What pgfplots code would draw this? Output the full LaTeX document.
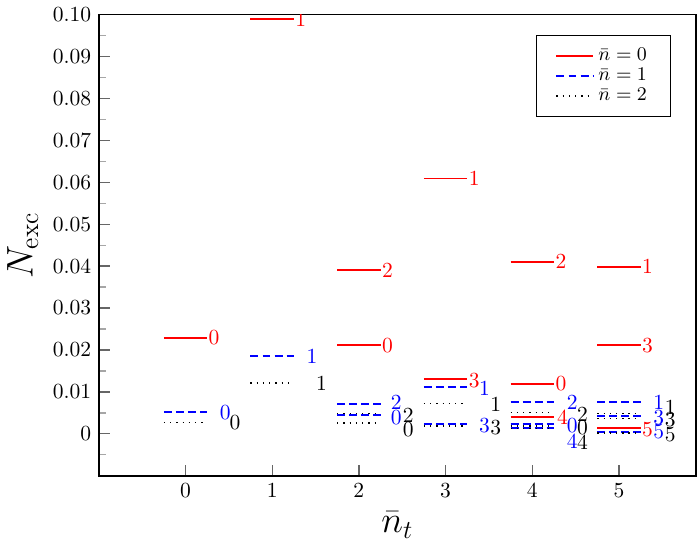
\documentclass[border=0pt]{standalone}
\usepackage{pgfplots}
\pgfplotsset{compat=1.18}
\newcommand{\lab}[4]{\node[text=#4,inner sep=0pt,anchor=center] at (axis cs:#1,#2) {$#3$};}
\begin{document}
\begin{tikzpicture}
\begin{axis}[scale only axis,width=277.7pt,height=214.4pt,
  xmin=-1,xmax=5.89,ymin=-0.01,ymax=0.1,
  xtick={0,1,2,3,4,5},
  ytick={0,0.01,0.02,0.03,0.04,0.05,0.06,0.07,0.08,0.09,0.1},
  yticklabels={0,0.01,0.02,0.03,0.04,0.05,0.06,0.07,0.08,0.09,0.10},
  minor ytick={-0.005,0.005,0.015,0.025,0.035,0.045,0.055,0.065,0.075,0.085,0.095},
  xtick pos=lower,ytick pos=left,tick align=inside,
  major tick length=5pt,minor tick length=3.3pt,
  major tick style={gray!80!black,line width=0.6pt},
  minor tick style={gray!70,line width=0.6pt},
  axis line style={line width=0.8pt},
  xlabel={$\bar{n}_t$},ylabel={$N_{\mathrm{exc}}$},
  label style={font=\LARGE},
  unbounded coords=jump,
  legend style={at={(0.958,0.956)},anchor=north east,font=\small,
    cells={anchor=west},inner xsep=9pt,inner ysep=4pt,row sep=-2pt}]
% nbar = 0
\addplot[red,line width=0.9pt] coordinates {
 (-0.25,0.0229)(0.25,0.0229)(0,nan)
 (0.75,0.0989)(1.25,0.0989)(1,nan)
 (1.75,0.0390)(2.25,0.0390)(2,nan)
 (1.75,0.0211)(2.25,0.0211)(2,nan)
 (2.75,0.0609)(3.25,0.0609)(3,nan)
 (2.75,0.0131)(3.25,0.0131)(3,nan)
 (3.75,0.0410)(4.25,0.0410)(4,nan)
 (3.75,0.0119)(4.25,0.0119)(4,nan)
 (3.75,0.0041)(4.25,0.0041)(4,nan)
 (4.75,0.0399)(5.25,0.0399)(5,nan)
 (4.75,0.0211)(5.25,0.0211)(5,nan)
 (4.75,0.0015)(5.25,0.0015)};
\addlegendentry{$\bar{n}=0$}
% nbar = 1
\addplot[blue,line width=0.9pt,dash pattern=on 3.7pt off 1.9pt] coordinates {
 (-0.25,0.0052)(0.25,0.0052)(0,nan)
 (0.75,0.0185)(1.25,0.0185)(1,nan)
 (1.75,0.0072)(2.25,0.0072)(2,nan)
 (1.75,0.0044)(2.25,0.0044)(2,nan)
 (2.75,0.0112)(3.25,0.0112)(3,nan)
 (2.75,0.0024)(3.25,0.0024)(3,nan)
 (3.75,0.0075)(4.25,0.0075)(4,nan)
 (3.75,0.0024)(4.25,0.0024)(4,nan)
 (3.75,0.0015)(4.25,0.0015)(4,nan)
 (4.75,0.0075)(5.25,0.0075)(5,nan)
 (4.75,0.0043)(5.25,0.0043)(5,nan)
 (4.75,0.0004)(5.25,0.0004)};
\addlegendentry{$\bar{n}=1$}
% nbar = 2
\addplot[black,line width=0.6pt,dash pattern=on 0.6pt off 2.3pt] coordinates {
 (-0.25,0.0027)(0.25,0.0027)(0,nan)
 (0.75,0.0121)(1.25,0.0121)(1,nan)
 (1.75,0.0048)(2.25,0.0048)(2,nan)
 (1.75,0.0026)(2.25,0.0026)(2,nan)
 (2.75,0.0072)(3.25,0.0072)(3,nan)
 (2.75,0.0019)(3.25,0.0019)(3,nan)
 (3.75,0.0051)(4.25,0.0051)(4,nan)
 (3.75,0.0019)(4.25,0.0019)(4,nan)
 (3.75,0.0012)(4.25,0.0012)(4,nan)
 (4.75,0.0048)(5.25,0.0048)(5,nan)
 (4.75,0.0036)(5.25,0.0036)(5,nan)
 (4.75,0.0002)(5.25,0.0002)};
\addlegendentry{$\bar{n}=2$}
% labels, red
\lab{0.33}{0.0229}{0}{red}
\lab{1.33}{0.0988}{1}{red}
\lab{2.33}{0.0390}{2}{red}
\lab{2.33}{0.0211}{0}{red}
\lab{3.33}{0.0609}{1}{red}
\lab{3.33}{0.0127}{3}{red}
\lab{4.33}{0.0410}{2}{red}
\lab{4.33}{0.0119}{0}{red}
\lab{4.35}{0.0039}{4}{red}
\lab{5.33}{0.0399}{1}{red}
\lab{5.33}{0.0211}{3}{red}
\lab{5.33}{0.0011}{5}{red}
% labels, blue
\lab{0.46}{0.0051}{0}{blue}
\lab{1.46}{0.0184}{1}{blue}
\lab{2.43}{0.0075}{2}{blue}
\lab{2.43}{0.0039}{0}{blue}
\lab{3.45}{0.0109}{1}{blue}
\lab{3.45}{0.0019}{3}{blue}
\lab{4.46}{0.0075}{2}{blue}
\lab{4.46}{0.0019}{0}{blue}
\lab{4.46}{-0.0018}{4}{blue}
\lab{5.46}{0.0075}{1}{blue}
\lab{5.46}{0.0039}{3}{blue}
\lab{5.46}{0.0006}{5}{blue}
% labels, black
\lab{0.57}{0.0027}{0}{black}
\lab{1.57}{0.0119}{1}{black}
\lab{2.57}{0.0043}{2}{black}
\lab{2.57}{0.0011}{0}{black}
\lab{3.58}{0.0071}{1}{black}
\lab{3.58}{0.0016}{3}{black}
\lab{4.58}{0.0047}{2}{black}
\lab{4.58}{0.0015}{0}{black}
\lab{4.58}{-0.0021}{4}{black}
\lab{5.59}{0.0063}{1}{black}
\lab{5.59}{0.0035}{3}{black}
\lab{5.59}{-0.0001}{5}{black}
\end{axis}
\end{tikzpicture}
\end{document}
